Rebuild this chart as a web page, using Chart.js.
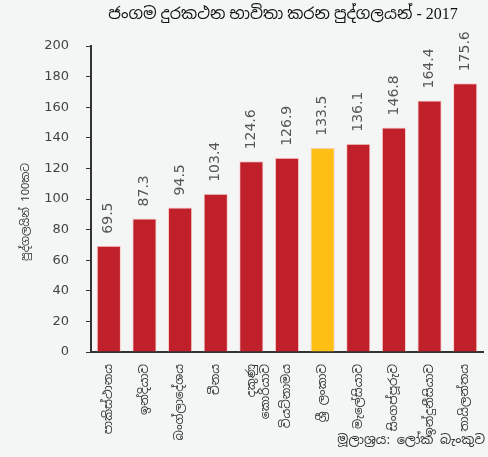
<!DOCTYPE html>
<html>
<head>
<meta charset="utf-8">
<script src="https://cdn.jsdelivr.net/npm/chart.js@4"></script>
<style>
  html, body { margin: 0; padding: 0; background: #f3f6f5; }
  #wrap { width: 488px; height: 457px; position: relative; }
</style>
</head>
<body>
<div id="wrap"><canvas id="c"></canvas></div>
<script>
const countries = [
  'පාකිස්ථානය', 'ඉන්දියාව', 'බංග්ලාදේශය', 'චීනය', ['දකුණු', 'කොරියාව'],
  'වියට්නාමය', 'ශ්‍රී ලංකාව', 'මැලේසියාව', 'සිංගප්පූරුව', 'ඉන්දුනීසියාව', 'තායිලන්තය'
];
const users = [69.5, 87.3, 94.5, 103.4, 124.6, 126.9, 133.5, 136.1, 146.8, 164.4, 175.6];
const highlight = 'ශ්‍රී ලංකාව';
const yTicks = [0, 20, 40, 60, 80, 100, 120, 140, 160, 180, 200];

const titleText = 'ජංගම දුරකථන භාවිතා කරන පුද්ගලයන් - 2017';
const yTitle = 'පුද්ගලයින් 100කට';
const sourceText = 'මූලාශ්‍රය: ලෝක බැංකුව';

const sinhalaFont = '"Noto Sans Sinhala", "Iskoola Pota", "Noto Sans", sans-serif';

const red = '#c0202a';
const yellow = '#fdbf14';
const barColors = countries.map(c => c === highlight ? yellow : red);

// value labels above each bar, rotated
const valueLabels = {
  id: 'valueLabels',
  afterDatasetsDraw(chart) {
    const ctx = chart.ctx;
    const meta = chart.getDatasetMeta(0);
    ctx.save();
    ctx.fillStyle = '#555';
    ctx.font = '14px "DejaVu Sans", sans-serif';
    ctx.textAlign = 'left';
    ctx.textBaseline = 'middle';
    meta.data.forEach((bar, i) => {
      ctx.save();
      ctx.translate(bar.x, bar.y - 12);
      ctx.rotate(-Math.PI / 2);
      ctx.fillText(users[i].toFixed(1), 0, 0);
      ctx.restore();
    });
    ctx.restore();
  }
};

// title on top, y title at left, source at bottom right
const texts = {
  id: 'texts',
  afterDraw(chart) {
    const ctx = chart.ctx;
    ctx.save();
    ctx.fillStyle = '#111';
    ctx.font = '16px "Liberation Serif", ' + sinhalaFont;
    ctx.textAlign = 'center';
    ctx.textBaseline = 'middle';
    ctx.fillText(titleText, 283, 15);

    ctx.save();
    ctx.translate(26, 212);
    ctx.rotate(-Math.PI / 2);
    ctx.font = '11px ' + sinhalaFont;
    ctx.fillStyle = '#333';
    ctx.fillText(yTitle, 0, 0);
    ctx.restore();

    ctx.font = '13px ' + sinhalaFont;
    ctx.textAlign = 'right';
    ctx.fillStyle = '#333';
    ctx.fillText(sourceText, 485, 440);
    ctx.restore();
  }
};

new Chart(document.getElementById('c'), {
  type: 'bar',
  data: {
    labels: countries,
    datasets: [{
      data: users,
      backgroundColor: barColors,
      borderColor: 'rgba(255, 190, 190, 0.7)',
      borderWidth: 1,
      barPercentage: 0.68,
      categoryPercentage: 1
    }]
  },
  options: {
    responsive: true,
    maintainAspectRatio: false,
    animation: false,
    layout: { padding: { top: 46, right: 5, left: 0, bottom: 0 } },
    plugins: {
      legend: { display: false },
      tooltip: { enabled: false }
    },
    scales: {
      x: {
        grid: { display: false },
        border: { display: true, color: '#333', width: 2 },
        ticks: {
          color: '#333',
          font: { size: 12, family: sinhalaFont },
          minRotation: 90,
          maxRotation: 90,
          autoSkip: false,
          padding: 4
        },
        afterFit(scale) { scale.height = 105; }
      },
      y: {
        min: 0,
        max: 200,
        afterBuildTicks(scale) { scale.ticks = yTicks.map(v => ({ value: v })); },
        grid: { display: true, drawOnChartArea: false, drawTicks: true, tickLength: 5, color: '#333' },
        border: { display: true, color: '#333', width: 2 },
        ticks: {
          color: '#444',
          font: { size: 13, family: '"DejaVu Sans", sans-serif' },
          padding: 17
        },
        afterFit(scale) { scale.width = 91; }
      }
    }
  },
  plugins: [valueLabels, texts]
});
</script>
</body>
</html>
